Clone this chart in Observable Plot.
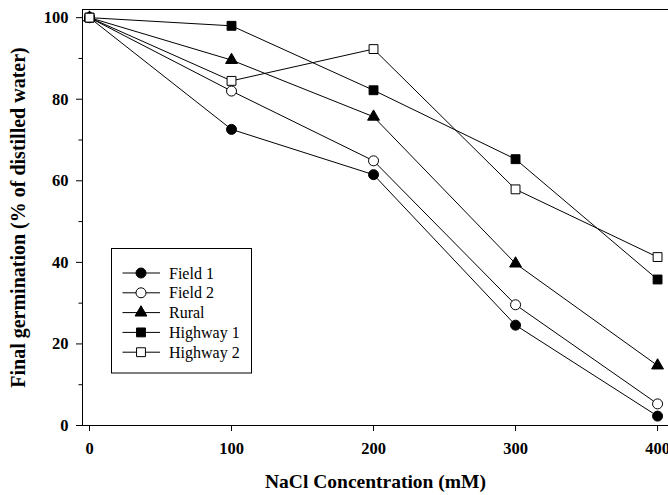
<!DOCTYPE html>
<html>
<head>
<meta charset="utf-8">
<script src="https://cdn.jsdelivr.net/npm/d3@7"></script>
<script src="https://cdn.jsdelivr.net/npm/@observablehq/plot@0.6"></script>
<style>
  html, body { margin: 0; padding: 0; background: white; }
  #wrap { position: relative; width: 668px; height: 495px; overflow: hidden; }
  #legend { position: absolute; left: 0; top: 0; }
</style>
</head>
<body>
<div id="wrap"></div>
<script>
// ---- data ----
const concentrations = [0, 100, 200, 300, 400];
const seriesNames = ["Field 1", "Field 2", "Rural", "Highway 1", "Highway 2"];
const field1   = [100, 72.6, 61.5, 24.6, 2.3];
const field2   = [100, 82.0, 64.9, 29.6, 5.3];
const rural    = [100, 89.6, 75.7, 39.7, 14.7];
const highway1 = [100, 98.0, 82.2, 65.3, 35.8];
const highway2 = [100, 84.5, 92.3, 57.9, 41.3];
const xTicks = [0, 100, 200, 300, 400];
const yTicks = [0, 20, 40, 60, 80, 100];
const yMinorTicks = [10, 30, 50, 70, 90];
const xTitle = "NaCl Concentration (mM)";
const yTitle = "Final germination (% of distilled water)";

// marker styles per series
const symbols = ["circle", "circle", "triangle", "square", "square"];
const fills = ["black", "white", "black", "black", "white"];
const radii = [5, 5, 4.4, 5, 5];

const values = [field1, field2, rural, highway1, highway2];
const rows = [];
seriesNames.forEach((s, i) => {
  concentrations.forEach((c, j) => rows.push({series: s, x: c, y: values[i][j], i}));
});

const xMin = -4.93, xMax = 407.7, yMax = 102;

const chart = Plot.plot({
  width: 668,
  height: 495,
  marginLeft: 82,
  marginRight: 0,
  marginTop: 9,
  marginBottom: 70,
  style: {fontFamily: "'Liberation Serif', 'Times New Roman', serif", fontSize: "16.5px", fontWeight: "bold", background: "white", color: "black"},
  x: {domain: [xMin, xMax]},
  y: {domain: [0, yMax]},
  marks: [
    Plot.ruleY([0, yMax], {stroke: "black", strokeWidth: 1}),
    Plot.ruleX([xMin], {stroke: "black", strokeWidth: 1}),
    Plot.axisX({ticks: xTicks, tickSize: 6, tickPadding: 11, tickFormat: d => String(d), label: null}),
    Plot.axisY({ticks: yTicks, tickSize: 6, tickPadding: 8, tickFormat: d => String(d), label: null}),
    Plot.axisY({ticks: yMinorTicks, tickSize: 3.5, tickFormat: () => "", label: null}),
    Plot.line(rows, {x: "x", y: "y", z: "series", stroke: "black", strokeWidth: 1}),
    ...seriesNames.map((s, i) => Plot.dot(rows.filter(d => d.series === s), {
      x: "x", y: "y", symbol: () => symbols[i], r: radii[i],
      fill: fills[i], stroke: "black", strokeWidth: 1
    })),
    Plot.text([xTitle], {frameAnchor: "bottom", dy: 62, fontSize: 19.5, fontWeight: "bold"}),
    Plot.text([yTitle], {frameAnchor: "left", textAnchor: "middle", dx: -64, rotate: -90, fontSize: 20, fontWeight: "bold"})
  ]
});

const wrap = document.getElementById("wrap");
wrap.appendChild(chart);

// legend overlay
const lg = d3.select(wrap).append("svg")
  .attr("id", "legend").attr("width", 668).attr("height", 495)
  .style("pointer-events", "none");
const box = {x: 111.5, y: 248.5, w: 140, h: 124.5};
lg.append("rect").attr("x", box.x).attr("y", box.y).attr("width", box.w).attr("height", box.h)
  .attr("fill", "white").attr("stroke", "black").attr("stroke-width", 1);
const rowY0 = 273, rowStep = 19.8;
seriesNames.forEach((s, i) => {
  const y = rowY0 + i * rowStep;
  const g = lg.append("g");
  g.append("line").attr("x1", 122.5).attr("x2", 160).attr("y1", y).attr("y2", y)
    .attr("stroke", "black").attr("stroke-width", 1);
  const sym = symbols[i] === "circle" ? d3.symbolCircle : symbols[i] === "square" ? d3.symbolSquare : d3.symbolTriangle;
  g.append("path").attr("d", d3.symbol(sym, Math.PI * radii[i] * radii[i])())
    .attr("transform", `translate(141,${y})`)
    .attr("fill", fills[i]).attr("stroke", "black").attr("stroke-width", 1);
  g.append("text").attr("x", 169).attr("y", y).attr("dy", "0.35em")
    .attr("font-family", "'Liberation Serif', 'Times New Roman', serif").attr("font-size", 16)
    .text(s);
});
</script>
</body>
</html>
